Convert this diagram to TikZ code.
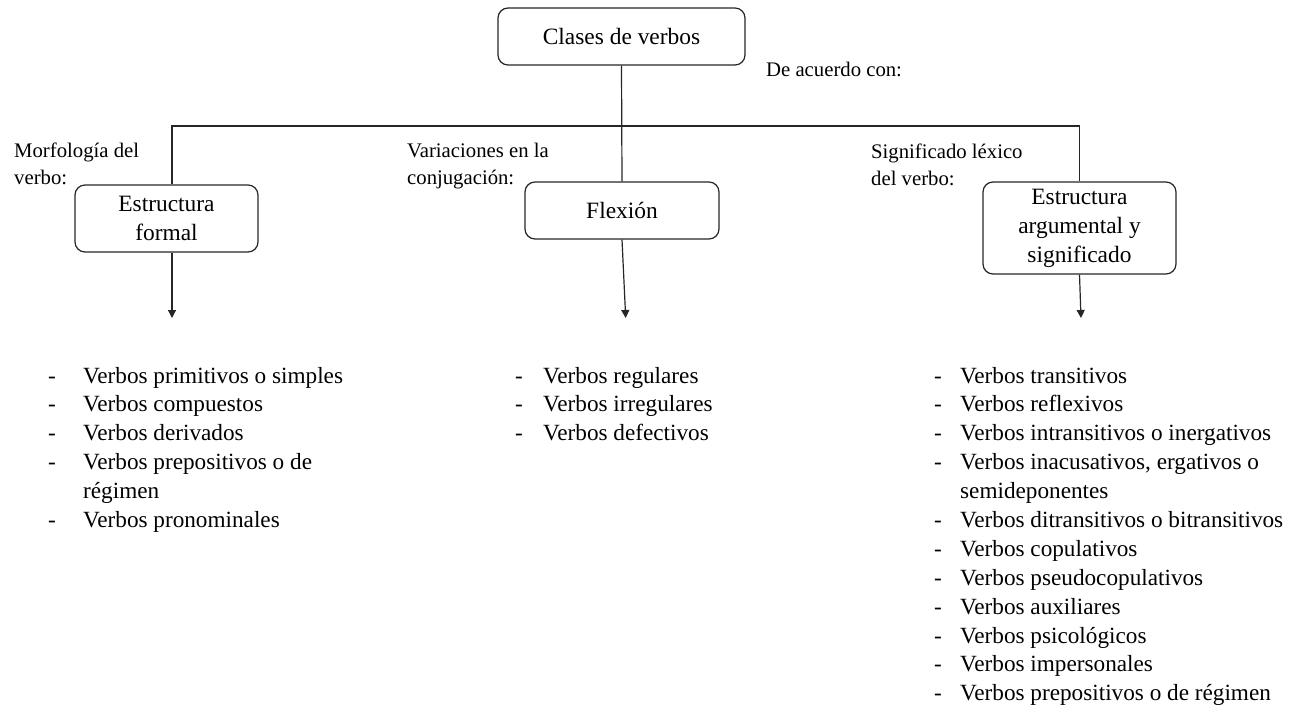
\documentclass[tikz,border=0pt]{standalone}
\usepackage{fontspec}
\setmainfont{Liberation Serif}
\usetikzlibrary{arrows.meta}

% list helpers: a dash bullet and a hanging indent for wrapped lines;
% \listindent sets the distance from the dash to the item text
\newlength\listindent
\setlength\listindent{35bp}
\newcommand\dashitem{\makebox[\listindent][l]{-}}
\newcommand\hangline{\hspace*{\listindent}}
% multi-line text whose reference point is the first baseline
\newcommand\firstbase[1]{\begin{tabular}[t]{@{}l@{}}#1\end{tabular}}

\tikzset{
  box/.style={draw=black!85, line width=1.2bp, rounded corners=10bp,
              align=center, inner sep=0pt,
              font=\fontsize{23.5}{29}\selectfont},
  lbl/.style={anchor=base west, inner sep=0pt,
              font=\fontsize{20.8}{26.5}\selectfont},
  lst/.style={anchor=base west, inner sep=0pt,
              font=\fontsize{23.3}{29}\selectfont},
  link/.style={draw=black!85, line width=1.2bp},
  arr/.style={link, -{Triangle[width=8bp,length=8bp]}},
}

\begin{document}
\begin{tikzpicture}[x=1bp, y=-1bp]
\useasboundingbox (0,0) rectangle (1297,714);

% boxes
\node[box, minimum width=247bp, minimum height=57bp] (top) at (621.5,36.5) {Clases de verbos};
\node[box, minimum width=183bp, minimum height=67bp] (lb) at (166.5,218.5) {Estructura\\formal};
\node[box, minimum width=194bp, minimum height=57bp] (mb) at (622,210.5) {Flexión};
\node[box, minimum width=193bp, minimum height=92bp] (rb) at (1079.5,228) {Estructura\\argumental y\\significado};

% side labels
\node[lbl] (da) at (766,77) {De acuerdo con:};
\node[lbl] (ml) at (14,158) {\firstbase{Morfología del\\verbo:}};
\node[lbl] (vl) at (407,158) {\firstbase{Variaciones en la\\conjugación:}};
\node[lbl] (sl) at (871,159) {\firstbase{Significado léxico\\del verbo:}};

% arrow ends and the horizontal bus
\coordinate (bus) at (0,126);
\coordinate (la) at (172,318);
\coordinate (ma) at (625.7,318);
\coordinate (ra) at (1081,318);

% tree connectors
\draw[link] (top.south) -- (mb.north);
\draw[link] (lb.north -| la) -- (la |- bus) -- (rb.north |- bus) -- (rb.north);

% arrows down to the lists
\draw[arr] (lb.south -| la) -- (la);
\draw[arr] (mb.south) -- (ma);
\draw[arr] (rb.south) -- (ra);

% lists
\node[lst] (l1) at (48,383) {\setlength\listindent{35bp}\firstbase{%
\dashitem Verbos primitivos o simples\\
\dashitem Verbos compuestos\\
\dashitem Verbos derivados\\
\dashitem Verbos prepositivos o de\\
\hangline régimen\\
\dashitem Verbos pronominales}};

\node[lst] (l2) at (515,383) {\setlength\listindent{28bp}\firstbase{%
\dashitem Verbos regulares\\
\dashitem Verbos irregulares\\
\dashitem Verbos defectivos}};

\node[lst] (l3) at (934,383) {\setlength\listindent{26bp}\firstbase{%
\dashitem Verbos transitivos\\
\dashitem Verbos reflexivos\\
\dashitem Verbos intransitivos o inergativos\\
\dashitem Verbos inacusativos, ergativos o\\
\hangline semideponentes\\
\dashitem Verbos ditransitivos o bitransitivos\\
\dashitem Verbos copulativos\\
\dashitem Verbos pseudocopulativos\\
\dashitem Verbos auxiliares\\
\dashitem Verbos psicológicos\\
\dashitem Verbos impersonales\\
\dashitem Verbos prepositivos o de régimen}};
\end{tikzpicture}
\end{document}
